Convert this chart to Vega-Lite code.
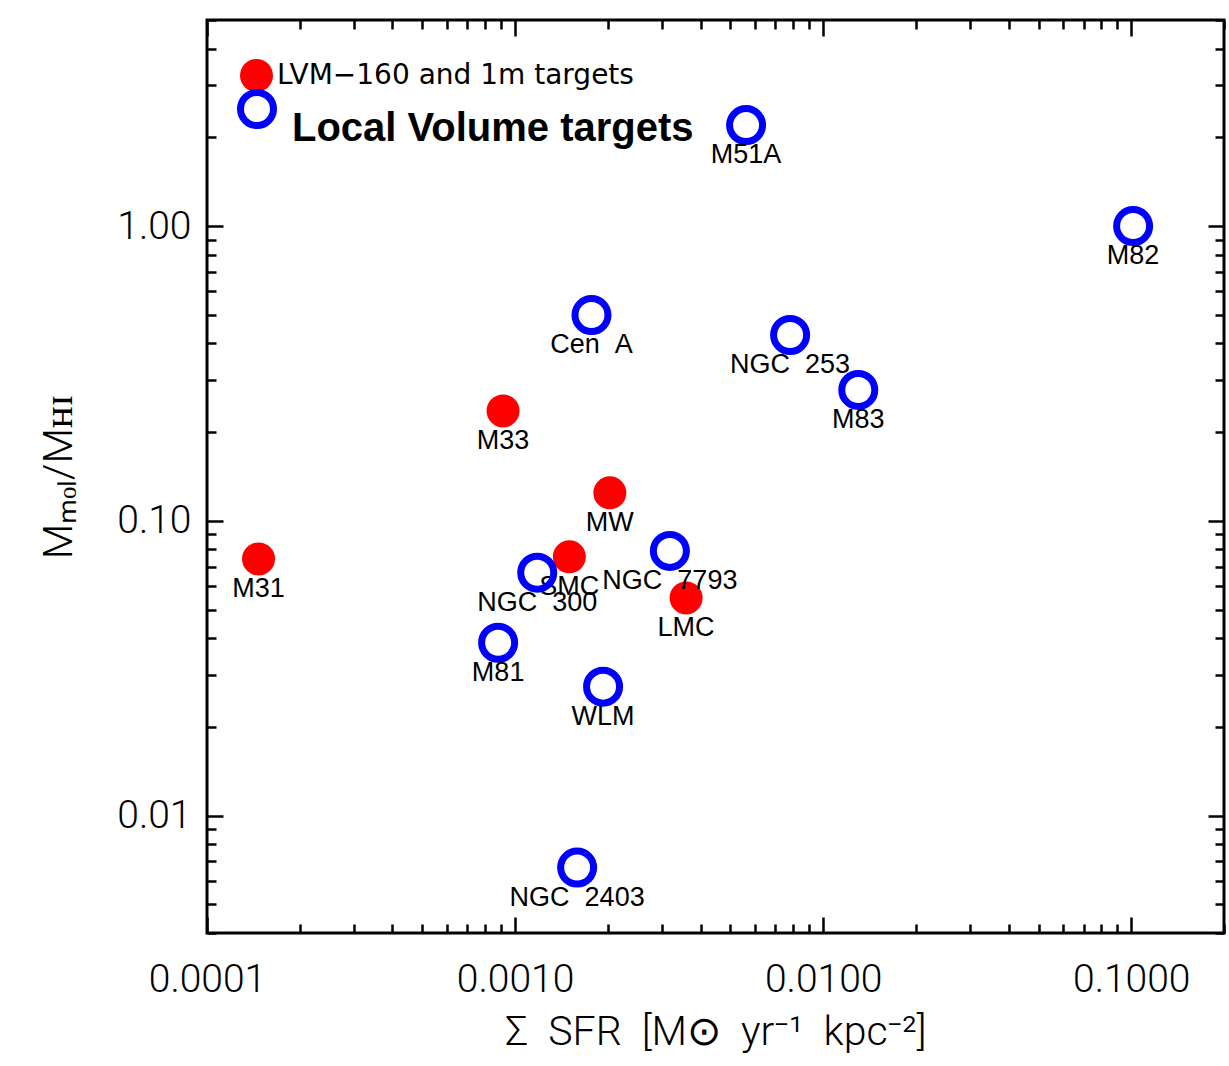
{
  "$schema": "https://vega.github.io/schema/vega-lite/v6.json",
  "autosize": "none",
  "padding": {"left": 207, "top": 20, "right": 5, "bottom": 133},
  "width": 1017,
  "height": 913,
  "background": "white",
  "config": {
    "view": {"stroke": "black", "strokeWidth": 3},
    "axis": {"domain": false, "grid": false, "tickColor": "black", "tickWidth": 2.5, "labelColor": "black", "titleColor": "black", "labelFont": "Roboto", "labelFontWeight": 300, "titleFont": "Roboto", "titleFontWeight": 300, "labelFontSize": 39, "titleFontSize": 41},
    "legend": {"layout": {"top-left": {"direction": "vertical", "margin": 0}}}
  },
  "data": {
    "values": [
      {"name": "M31", "sfr": 0.000147, "ratio": 0.0743, "group": "LVM−160 and 1m targets"},
      {"name": "M33", "sfr": 0.000914, "ratio": 0.236, "group": "LVM−160 and 1m targets"},
      {"name": "MW", "sfr": 0.00203, "ratio": 0.1245, "group": "LVM−160 and 1m targets"},
      {"name": "SMC", "sfr": 0.00150, "ratio": 0.0755, "group": "LVM−160 and 1m targets"},
      {"name": "LMC", "sfr": 0.00359, "ratio": 0.0548, "group": "LVM−160 and 1m targets"},
      {"name": "M51A", "sfr": 0.00562, "ratio": 2.2, "group": "Local Volume targets"},
      {"name": "M82", "sfr": 0.1014, "ratio": 1.0, "group": "Local Volume targets"},
      {"name": "Cen\u00a0\u00a0A", "sfr": 0.00177, "ratio": 0.499, "group": "Local Volume targets"},
      {"name": "NGC\u00a0\u00a0253", "sfr": 0.00781, "ratio": 0.427, "group": "Local Volume targets"},
      {"name": "M83", "sfr": 0.0130, "ratio": 0.278, "group": "Local Volume targets"},
      {"name": "NGC\u00a0\u00a07793", "sfr": 0.00318, "ratio": 0.0791, "group": "Local Volume targets"},
      {"name": "NGC\u00a0\u00a0300", "sfr": 0.00118, "ratio": 0.0667, "group": "Local Volume targets"},
      {"name": "M81", "sfr": 0.000881, "ratio": 0.0386, "group": "Local Volume targets"},
      {"name": "WLM", "sfr": 0.00193, "ratio": 0.0274, "group": "Local Volume targets"},
      {"name": "NGC\u00a0\u00a02403", "sfr": 0.00159, "ratio": 0.00667, "group": "Local Volume targets"}
    ]
  },
  "layer": [
    {
      "transform": [{"filter": "datum.group === 'LVM−160 and 1m targets'"}],
      "mark": {"type": "point", "shape": "circle", "filled": true, "size": 1089, "opacity": 1, "strokeWidth": 0},
      "encoding": {
        "x": {"field": "sfr", "type": "quantitative", "scale": {"type": "log", "domain": [0.0001, 0.2], "nice": false, "zero": false},
          "axis": {"orient": "bottom", "title": "Σ\u00a0\u00a0SFR\u00a0\u00a0[M⊙\u00a0\u00a0yr⁻¹\u00a0\u00a0kpc⁻²]", "titlePadding": 6,
            "values": [0.0001,0.0002,0.0003,0.0004,0.0005,0.0006,0.0007,0.0008,0.0009,0.001,0.002,0.003,0.004,0.005,0.006,0.007,0.008,0.009,0.01,0.02,0.03,0.04,0.05,0.06,0.07,0.08,0.09,0.1,0.2],
            "labelExpr": "abs(log(datum.value)/LN10 - round(log(datum.value)/LN10)) < 0.001 ? format(datum.value, '.4f') : ''",
            "labelOverlap": false, "labelFlush": false, "labelPadding": 43,
            "tickSize": {"condition": {"test": "abs(log(datum.value)/LN10 - round(log(datum.value)/LN10)) < 0.001", "value": -16}, "value": -9}}},
        "y": {"field": "ratio", "type": "quantitative", "scale": {"type": "log", "domain": [0.004, 5], "nice": false, "zero": false},
          "axis": {"orient": "left", "title": "Mₘₒₗ/Mʜɪ", "titlePadding": 36,
            "values": [0.004,0.005,0.006,0.007,0.008,0.009,0.01,0.02,0.03,0.04,0.05,0.06,0.07,0.08,0.09,0.1,0.2,0.3,0.4,0.5,0.6,0.7,0.8,0.9,1,2,3,4,5],
            "labelExpr": "abs(log(datum.value)/LN10 - round(log(datum.value)/LN10)) < 0.001 ? format(datum.value, '.2f') : ''",
            "labelOverlap": false, "labelFlush": false, "labelPadding": 32,
            "tickSize": {"condition": {"test": "abs(log(datum.value)/LN10 - round(log(datum.value)/LN10)) < 0.001", "value": -16}, "value": -9}}},
        "fill": {"field": "group", "type": "nominal", "scale": {"domain": ["LVM−160 and 1m targets"], "range": ["#ff0000"]},
          "legend": {"orient": "top-left", "title": null, "offset": 14, "padding": 25, "symbolType": "circle", "symbolSize": 1089, "symbolStrokeWidth": 0, "symbolOffset": -6,
            "labelFont": "DejaVu Sans", "labelFontSize": 28, "labelColor": "black", "labelOffset": 4, "labelLimit": 600}}
      }
    },
    {
      "transform": [{"filter": "datum.group === 'LVM−160 and 1m targets'"}],
      "mark": {"type": "text", "font": "Liberation Sans", "fontSize": 27, "color": "black", "baseline": "middle", "align": "center", "dy": 30},
      "encoding": {
        "x": {"field": "sfr", "type": "quantitative", "axis": null},
        "y": {"field": "ratio", "type": "quantitative", "axis": null},
        "text": {"field": "name"}
      }
    },
    {
      "transform": [{"filter": "datum.group === 'Local Volume targets'"}],
      "mark": {"type": "point", "shape": "circle", "filled": false, "size": 1089, "opacity": 1, "strokeWidth": 7, "fill": "white", "fillOpacity": 0},
      "encoding": {
        "x": {"field": "sfr", "type": "quantitative", "scale": {"type": "log", "domain": [0.0001, 0.2], "nice": false, "zero": false},
          "axis": {"orient": "top", "title": null, "labels": false,
            "values": [0.0001,0.0002,0.0003,0.0004,0.0005,0.0006,0.0007,0.0008,0.0009,0.001,0.002,0.003,0.004,0.005,0.006,0.007,0.008,0.009,0.01,0.02,0.03,0.04,0.05,0.06,0.07,0.08,0.09,0.1,0.2],
            "tickSize": {"condition": {"test": "abs(log(datum.value)/LN10 - round(log(datum.value)/LN10)) < 0.001", "value": -16}, "value": -9}}},
        "y": {"field": "ratio", "type": "quantitative", "scale": {"type": "log", "domain": [0.004, 5], "nice": false, "zero": false},
          "axis": {"orient": "right", "title": null, "labels": false,
            "values": [0.004,0.005,0.006,0.007,0.008,0.009,0.01,0.02,0.03,0.04,0.05,0.06,0.07,0.08,0.09,0.1,0.2,0.3,0.4,0.5,0.6,0.7,0.8,0.9,1,2,3,4,5],
            "tickSize": {"condition": {"test": "abs(log(datum.value)/LN10 - round(log(datum.value)/LN10)) < 0.001", "value": -16}, "value": -9}}},
        "stroke": {"field": "group", "type": "nominal", "scale": {"domain": ["Local Volume targets"], "range": ["#0000ff"]},
          "legend": {"orient": "top-left", "title": null, "offset": 14, "padding": -28, "symbolType": "circle", "symbolSize": 1089, "symbolStrokeWidth": 7, "symbolFillColor": "white", "symbolOffset": 44,
            "labelFont": "Liberation Sans", "labelFontWeight": "bold", "labelFontSize": 40, "labelColor": "black", "labelOffset": 15, "labelBaseline": "top", "labelLimit": 800}}
      }
    },
    {
      "transform": [{"filter": "datum.group === 'Local Volume targets'"}],
      "mark": {"type": "text", "font": "Liberation Sans", "fontSize": 27, "color": "black", "baseline": "middle", "align": "center", "dy": 30},
      "encoding": {
        "x": {"field": "sfr", "type": "quantitative", "axis": null},
        "y": {"field": "ratio", "type": "quantitative", "axis": null},
        "text": {"field": "name"}
      }
    }
  ],
  "resolve": {"axis": {"x": "independent", "y": "independent"}}
}
